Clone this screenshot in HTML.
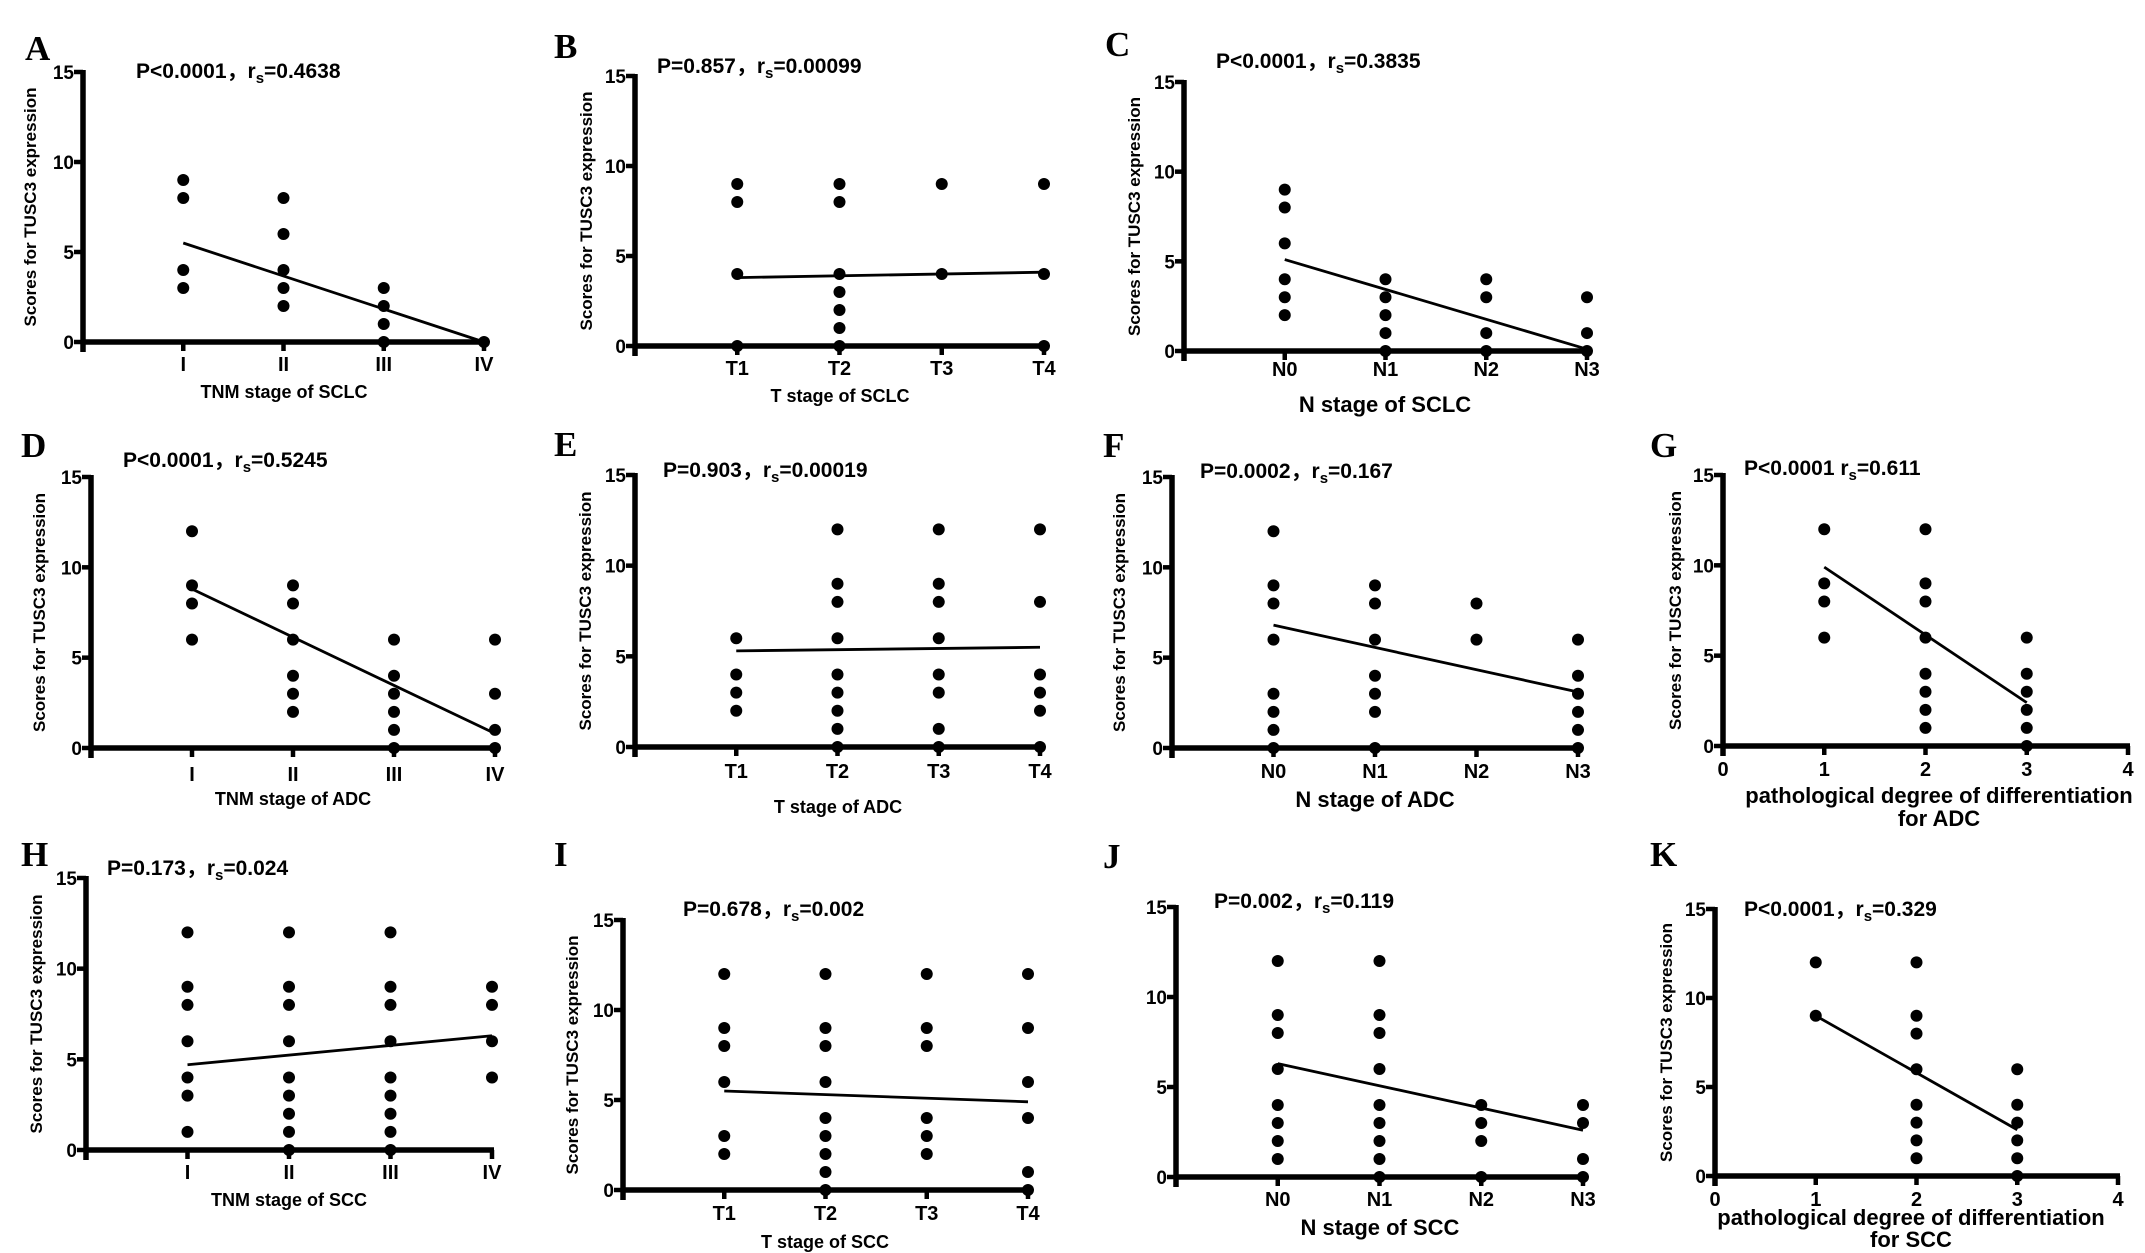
<!DOCTYPE html>
<html><head><meta charset="utf-8"><title>TUSC3 scores panels</title>
<style>
html,body{margin:0;padding:0;background:#fff;}
svg{display:block;}
text{font-family:"Liberation Sans","Noto Sans CJK SC",sans-serif;font-weight:bold;fill:#000;}
.letter{font-family:"Liberation Serif",serif;font-size:35px;}
</style></head>
<body>
<svg id="fig" width="2145" height="1253" viewBox="0 0 2145 1253" xmlns="http://www.w3.org/2000/svg"></svg>
<script>
// ---- data ----
const stagesTNM = ["I","II","III","IV"];
const stagesT = ["T1","T2","T3","T4"];
const stagesN = ["N0","N1","N2","N3"];
const gradeTicks = ["0","1","2","3","4"];
const yTicks = [0,5,10,15];

const dataA = [[9,8,4,3],[8,6,4,3,2],[3,2,1,0],[0]];
const fitA = [5.5,0];
const dataB = [[9,8,4,0],[9,8,4,3,2,1,0],[9,4],[9,4,0]];
const fitB = [3.8,4.1];
const dataC = [[9,8,6,4,3,2],[4,3,2,1,0],[4,3,1,0],[3,1,0]];
const fitC = [5.1,0.1];
const dataD = [[12,9,8,6],[9,8,6,4,3,2],[6,4,3,2,1,0],[6,3,1,0]];
const fitD = [8.8,0.8];
const dataE = [[6,4,3,2],[12,9,8,6,4,3,2,1,0],[12,9,8,6,4,3,1,0],[12,8,4,3,2,0]];
const fitE = [5.3,5.5];
const dataF = [[12,9,8,6,3,2,1,0],[9,8,6,4,3,2,0],[8,6],[6,4,3,2,1,0]];
const fitF = [6.8,3.1];
const gradesG = [1,2,3];
const dataG = [[12,9,8,6],[12,9,8,6,4,3,2,1],[6,4,3,2,1,0]];
const fitG = [9.9,2.4];
const dataH = [[12,9,8,6,4,3,1],[12,9,8,6,4,3,2,1,0],[12,9,8,6,4,3,2,1,0],[9,8,6,4]];
const fitH = [4.7,6.3];
const dataI = [[12,9,8,6,3,2],[12,9,8,6,4,3,2,1,0],[12,9,8,4,3,2],[12,9,6,4,1,0]];
const fitI = [5.5,4.9];
const dataJ = [[12,9,8,6,4,3,2,1],[12,9,8,6,4,3,2,1,0],[4,3,2,0],[4,3,1,0]];
const fitJ = [6.3,2.6];
const gradesK = [1,2,3];
const dataK = [[12,9],[12,9,8,6,4,3,2,1],[6,4,3,2,1,0]];
const fitK = [9.0,2.6];

const NS = "http://www.w3.org/2000/svg";
const svg = document.getElementById("fig");
function mk(tag, attrs, parent){
  const e = document.createElementNS(NS, tag);
  for (const k in attrs) e.setAttribute(k, attrs[k]);
  (parent||svg).appendChild(e);
  return e;
}

const panels = [
 {id:"a",L:"A",lx:25,ly:60,ax:83,y0:342,y15:72,step:100.25,cats:stagesTNM,data:dataA,fit:fitA,
  title:["P<0.0001，r","s","=0.4638"],tx:136,ty:78,clY:371,xt:["TNM stage of SCLC"],xtX:284,xtY:[398],big:false,ytX:30},
 {id:"b",L:"B",lx:554,ly:58,ax:635,y0:346,y15:76,step:102.25,cats:stagesT,data:dataB,fit:fitB,
  title:["P=0.857，r","s","=0.00099"],tx:657,ty:73,clY:375,xt:["T stage of SCLC"],xtX:840,xtY:[402],big:false,ytX:586},
 {id:"c",L:"C",lx:1105,ly:56,ax:1184,y0:351,y15:82,step:100.75,cats:stagesN,data:dataC,fit:fitC,
  title:["P<0.0001，r","s","=0.3835"],tx:1216,ty:68,clY:376,xt:["N stage of SCLC"],xtX:1385,xtY:[412],big:true,ytX:1134},
 {id:"d",L:"D",lx:21,ly:457,ax:91,y0:748,y15:477,step:101,cats:stagesTNM,data:dataD,fit:fitD,
  title:["P<0.0001，r","s","=0.5245"],tx:123,ty:467,clY:781,xt:["TNM stage of ADC"],xtX:293,xtY:[805],big:false,ytX:39},
 {id:"e",L:"E",lx:554,ly:456,ax:635,y0:747,y15:475,step:101.25,cats:stagesT,data:dataE,fit:fitE,
  title:["P=0.903，r","s","=0.00019"],tx:663,ty:477,clY:778,xt:["T stage of ADC"],xtX:838,xtY:[813],big:false,ytX:585},
 {id:"f",L:"F",lx:1103,ly:457,ax:1172,y0:748,y15:477,step:101.5,cats:stagesN,data:dataF,fit:fitF,
  title:["P=0.0002，r","s","=0.167"],tx:1200,ty:478,clY:778,xt:["N stage of ADC"],xtX:1375,xtY:[807],big:true,ytX:1119},
 {id:"g",L:"G",lx:1650,ly:457,ax:1723,y0:746,y15:475,step:101.25,numeric:true,grades:gradesG,data:dataG,fit:fitG,
  title:["P<0.0001  r","s","=0.611"],tx:1744,ty:475,clY:776,xt:["pathological degree of differentiation","for ADC"],xtX:1939,xtY:[803,826],big:true,ytX:1675},
 {id:"h",L:"H",lx:21,ly:866,ax:86,y0:1150,y15:878,step:101.5,cats:stagesTNM,data:dataH,fit:fitH,
  title:["P=0.173，r","s","=0.024"],tx:107,ty:875,clY:1179,xt:["TNM stage of SCC"],xtX:289,xtY:[1206],big:false,ytX:36},
 {id:"i",L:"I",lx:554,ly:866,ax:623,y0:1190,y15:920,step:101.25,cats:stagesT,data:dataI,fit:fitI,
  title:["P=0.678，r","s","=0.002"],tx:683,ty:916,clY:1220,xt:["T stage of SCC"],xtX:825,xtY:[1248],big:false,ytX:572},
 {id:"j",L:"J",lx:1103,ly:868,ax:1176,y0:1177,y15:907,step:101.75,cats:stagesN,data:dataJ,fit:fitJ,
  title:["P=0.002，r","s","=0.119"],tx:1214,ty:908,clY:1206,xt:["N stage of SCC"],xtX:1380,xtY:[1235],big:true,ytX:null},
 {id:"k",L:"K",lx:1650,ly:866,ax:1715,y0:1176,y15:909,step:100.75,numeric:true,grades:gradesK,data:dataK,fit:fitK,
  title:["P<0.0001，r","s","=0.329"],tx:1744,ty:916,clY:1206,xt:["pathological degree of differentiation","for SCC"],xtX:1911,xtY:[1225,1247],big:true,ytX:1666}
];

panels.forEach(p => {
  const g = mk("g", {});
  
  
  const yS = v => p.y0 - (v/15)*(p.y0 - p.y15);
  const xPos = i => p.numeric ? p.ax + p.grades[i]*p.step : p.ax + (i+1)*p.step;
  const xEnd = p.ax + 4*p.step;

  const lt = mk("text", {x:p.lx, y:p.ly, class:"letter"}, g);
  lt.textContent = p.L;
  
  

  const t = mk("text", {x:p.tx, y:p.ty, "font-size":21}, g);
  
  
  const s1 = mk("tspan", {}, t); s1.textContent = p.title[0];
  const s2 = mk("tspan", {dy:5, "font-size":15}, t); s2.textContent = p.title[1];
  const s3 = mk("tspan", {dy:-5}, t); s3.textContent = p.title[2];

  const ya = mk("line", {x1:p.ax, y1:p.y15-2, x2:p.ax, y2:p.y0+10, stroke:"#000","stroke-width":5.5}, g);
  
  
  const xa = mk("line", {x1:p.ax-2, y1:p.y0, x2:xEnd+2, y2:p.y0, stroke:"#000","stroke-width":5.5}, g);
  
  

  yTicks.forEach(v => {
    const tk = mk("line", {x1:p.ax-9, y1:yS(v), x2:p.ax, y2:yS(v), stroke:"#000","stroke-width":4.5}, g);
    
    
    const tl = mk("text", {x:p.ax-9, y:yS(v)+7, "font-size":19, "text-anchor":"end"}, g);
    tl.textContent = String(v);
    
    
  });

  if (p.numeric) {
    gradeTicks.forEach((lab, i) => {
      const x = p.ax + i*p.step;
      const tk = mk("line", {x1:x, y1:p.y0, x2:x, y2:p.y0+9, stroke:"#000","stroke-width":4.5}, g);
      
      
      const tl = mk("text", {x:x, y:p.clY, "font-size":20, "text-anchor":"middle"}, g);
      tl.textContent = lab;
      
      
    });
  } else {
    const tk0 = mk("line", {x1:p.ax, y1:p.y0, x2:p.ax, y2:p.y0+9, stroke:"#000","stroke-width":4.5}, g);
    
    
    p.cats.forEach((lab, i) => {
      const x = xPos(i);
      const tk = mk("line", {x1:x, y1:p.y0, x2:x, y2:p.y0+9, stroke:"#000","stroke-width":4.5}, g);
      
      
      const tl = mk("text", {x:x, y:p.clY, "font-size":20, "text-anchor":"middle"}, g);
      tl.textContent = lab;
      
      
    });
  }

  p.xt.forEach((line, k) => {
    const xt = mk("text", {x:p.xtX, y:p.xtY[k], "font-size": p.big ? 22 : 18, "text-anchor":"middle"}, g);
    xt.textContent = line;
    
    
  });

  if (p.ytX !== null) {
    const cy = (p.y0 + p.y15)/2;
    const yt = mk("text", {x:p.ytX, y:cy, "font-size":17, "text-anchor":"middle",
      transform:`rotate(-90 ${p.ytX} ${cy})`, dy:6}, g);
    yt.textContent = "Scores for TUSC3 expression";
    
    
  }

  p.data.forEach((vals, i) => {
    vals.forEach(v => {
      const c = mk("circle", {cx:xPos(i), cy:yS(v), r:6, fill:"#000"}, g);
      
      
    });
  });

  const last = p.data.length - 1;
  const fl = mk("line", {x1:xPos(0), y1:yS(p.fit[0]), x2:xPos(last), y2:yS(p.fit[1]), stroke:"#000","stroke-width":2.8}, g);
  
  
});
</script>
</body></html>
